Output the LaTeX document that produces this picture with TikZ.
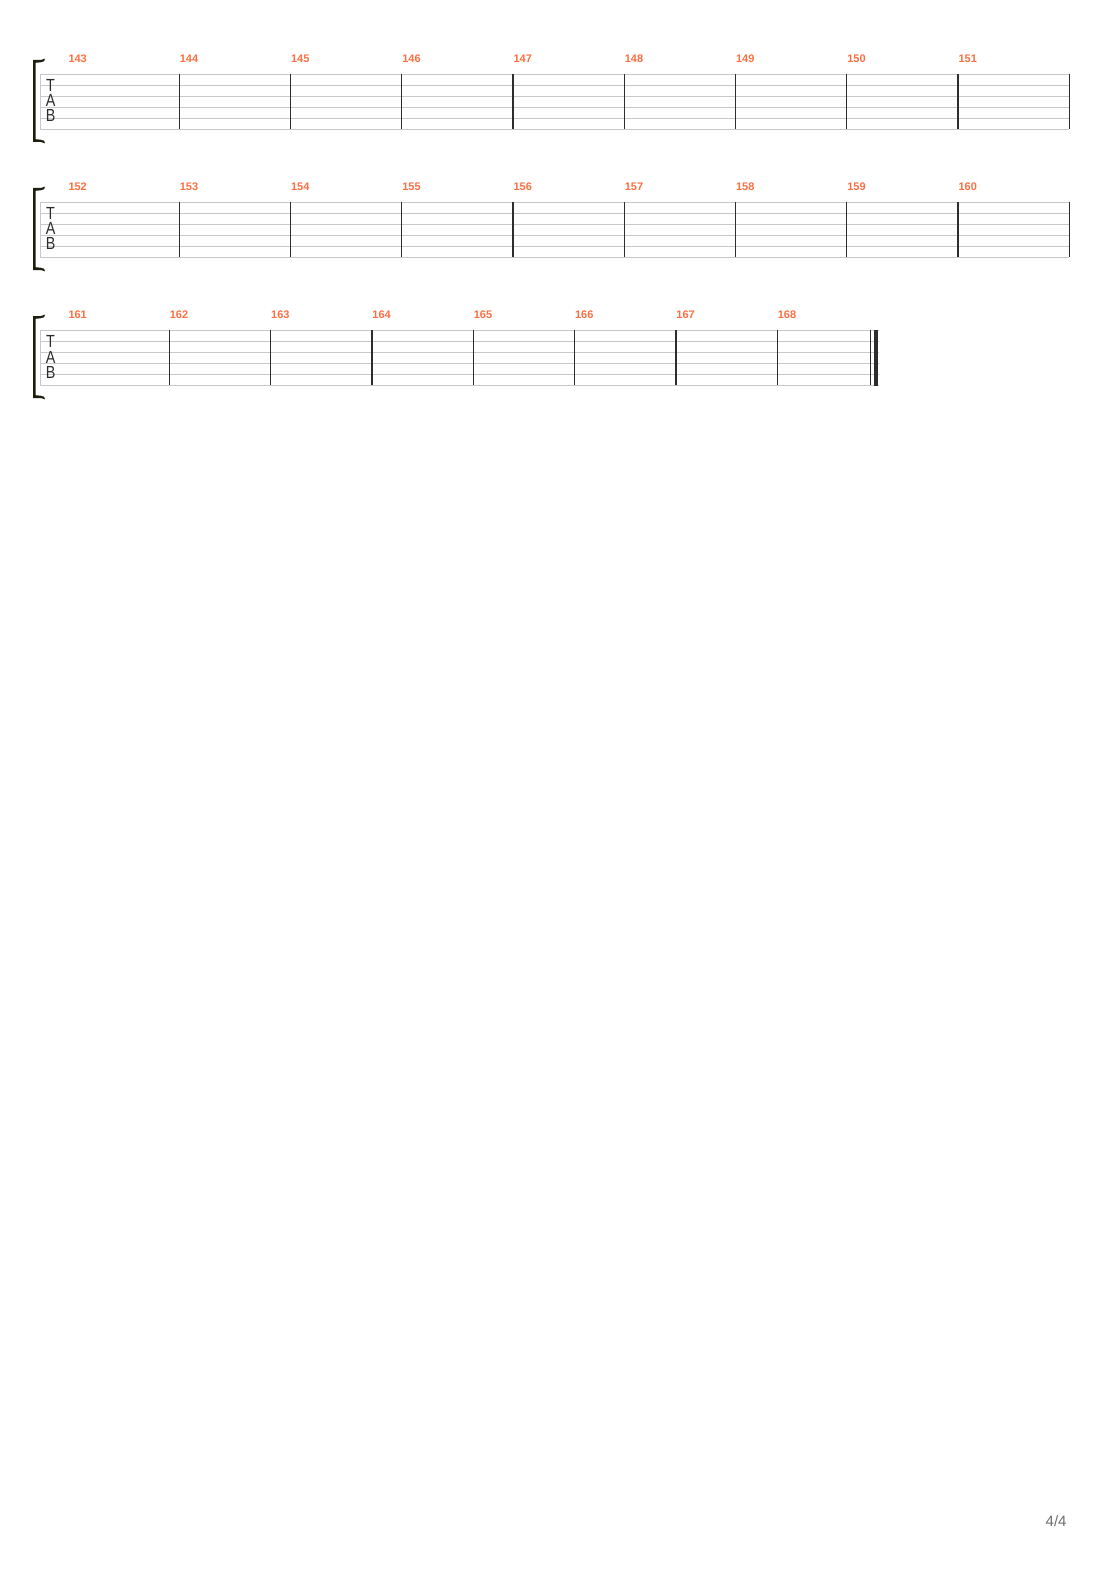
\documentclass[tikz,border=0pt]{standalone}
\usepackage{fontspec}
\setmainfont{Liberation Sans}
\definecolor{staffgray}{RGB}{200,200,200}
\definecolor{bardark}{RGB}{45,45,45}
\definecolor{numorange}{RGB}{250,112,66}
\definecolor{brackdark}{RGB}{30,30,15}
\definecolor{tabgray}{RGB}{45,45,45}
\definecolor{pagegray}{RGB}{110,110,110}
\begin{document}
\begin{tikzpicture}[x=1pt,y=-1pt,
  stafflinestyle/.style={draw=staffgray,line width=1pt},
  barstyle/.style={draw=bardark,line width=1.2pt},
  thickbar/.style={draw=bardark,line width=4pt},
  mnum/.style={anchor=base west,inner sep=0pt,text=numorange,font=\fontsize{11}{11}\selectfont\bfseries},
  tabletter/.style={anchor=base,inner sep=0pt,text height=12.4pt,text depth=0pt,text=tabgray,xscale=0.82,font=\fontsize{17.5}{17.5}\selectfont},
  bracketstyle/.style={fill=brackdark,draw=none}]
\useasboundingbox[fill=white] (0,0) rectangle (1110,1570);

\foreach \sys/\yo/\endx in {1/0/1069.3, 2/128/1069.3, 3/256/878.5}{
  \begin{scope}[yshift=-\yo]
    % bracket
    \fill[bracketstyle] (33,60) -- (41,60) .. controls (43,59.6) .. (45,58.6)
      -- (44.2,61.2) .. controls (41,62.3) .. (35.6,62.8) -- (35.6,139.2)
      .. controls (41,139.7) .. (44.2,140.8) -- (45,143.4)
      .. controls (43,142.4) .. (41,142) -- (33,142) -- cycle;
    % staff lines
    \foreach \k in {0,...,5}{
      \coordinate (s\sys l\k a) at (40,74.3+11*\k);
      \coordinate (s\sys l\k b) at (\endx,74.3+11*\k);
      \draw[stafflinestyle] (s\sys l\k a) -- (s\sys l\k b);
    }
    % left staff line
    \draw[stafflinestyle] (s\sys l0a) -- (s\sys l5a);
    % TAB letters
    \node[tabletter] (s\sys T) at (50.6,91.5) {T};
    \node[tabletter] (s\sys A) at (50.6,107) {A};
    \node[tabletter] (s\sys B) at (50.6,122) {B};
  \end{scope}
}

% system 1 barlines and numbers
\node[mnum] (m143) at (68.3,62.3) {143};
\foreach \i in {1,...,8}{
  \pgfmathsetmacro{\bx}{179.3+111.25*(\i-1)}
  \coordinate (b1t\i) at (\bx,74.3);
  \coordinate (b1b\i) at (\bx,129.3);
  \draw[barstyle] (b1t\i) -- (b1b\i);
  \pgfmathtruncatemacro{\mn}{143+\i}
  \node[mnum] (m\mn) at (\bx+0.3,62.3) {\mn};
}
\coordinate (b1tE) at (1069.3,74.3);
\coordinate (b1bE) at (1069.3,129.3);
\draw[barstyle] (b1tE) -- (b1bE);

% system 2
\node[mnum] (m152) at (68.3,190.3) {152};
\foreach \i in {1,...,8}{
  \pgfmathsetmacro{\bx}{179.3+111.25*(\i-1)}
  \coordinate (b2t\i) at (\bx,202.3);
  \coordinate (b2b\i) at (\bx,257.3);
  \draw[barstyle] (b2t\i) -- (b2b\i);
  \pgfmathtruncatemacro{\mn}{152+\i}
  \node[mnum] (m\mn) at (\bx+0.3,190.3) {\mn};
}
\coordinate (b2tE) at (1069.3,202.3);
\coordinate (b2bE) at (1069.3,257.3);
\draw[barstyle] (b2tE) -- (b2bE);

% system 3
\node[mnum] (m161) at (68.3,318.3) {161};
\foreach \i in {1,...,7}{
  \pgfmathsetmacro{\bx}{169.3+101.33*(\i-1)}
  \coordinate (b3t\i) at (\bx,330.3);
  \coordinate (b3b\i) at (\bx,385.3);
  \draw[barstyle] (b3t\i) -- (b3b\i);
  \pgfmathtruncatemacro{\mn}{161+\i}
  \node[mnum] (m\mn) at (\bx+0.3,318.3) {\mn};
}
\coordinate (b3tF) at (870.3,330.3);
\coordinate (b3bF) at (870.3,385.3);
\draw[barstyle] (b3tF) -- (b3bF);
\coordinate (b3tG) at (876.3,329.8);
\coordinate (b3bG) at (876.3,385.8);
\draw[thickbar] (b3tG) -- (b3bG);

% page number
\node[anchor=base west,inner sep=0pt,text=pagegray,font=\fontsize{15}{15}\selectfont] (pagenum) at (1045.5,1526) {4/4};
\end{tikzpicture}
\end{document}
